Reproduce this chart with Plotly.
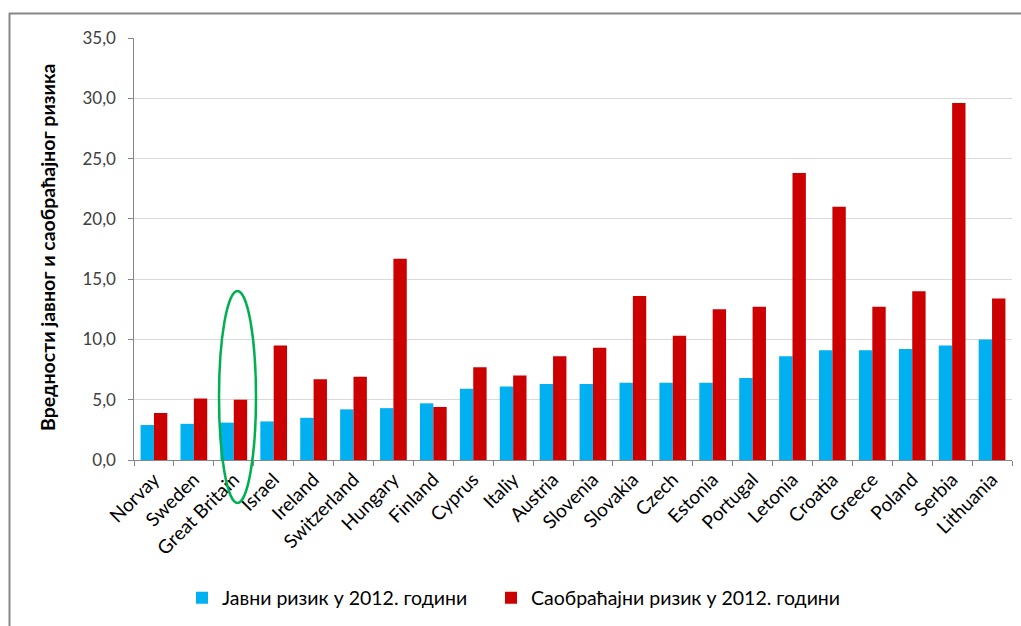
import plotly.graph_objects as go

countries = ["Norvay", "Sweden", "Great Britain", "Israel", "Ireland", "Switzerland",
             "Hungary", "Finland", "Cyprus", "Italiy", "Austria", "Slovenia", "Slovakia",
             "Czech", "Estonia", "Portugal", "Letonia", "Croatia", "Greece", "Poland",
             "Serbia", "Lithuania"]
public_risk = [2.9, 3.0, 3.1, 3.2, 3.5, 4.2, 4.3, 4.7, 5.9, 6.1, 6.3, 6.3, 6.4,
               6.4, 6.4, 6.8, 8.6, 9.1, 9.1, 9.2, 9.5, 10.0]
traffic_risk = [3.9, 5.1, 5.0, 9.5, 6.7, 6.9, 16.7, 4.4, 7.7, 7.0, 8.6, 9.3, 13.6,
                10.3, 12.5, 12.7, 23.8, 21.0, 12.7, 14.0, 29.6, 13.4]
series_names = ["Јавни ризик у 2012. години", "Саобраћајни ризик у 2012. години"]
y_title = "Вредности јавног и саобраћајног ризика"

W, H = 1021, 626
L, R, T, B = 134, 9, 38, 166
pw, ph = W - L - R, H - T - B

def px_x(p):
    return (p - L) / pw

def px_y(p):
    return (H - B - p) / ph

FONT = "Lato"

fig = go.Figure()
fig.add_trace(go.Bar(x=countries, y=public_risk, name=series_names[0], legend="legend",
                     marker=dict(color="#00b0f0", line=dict(width=0))))
fig.add_trace(go.Bar(x=countries, y=traffic_risk, name=series_names[1], legend="legend2",
                     marker=dict(color="#cc0000", line=dict(width=0))))

legend_common = dict(orientation="h", xanchor="left", y=px_y(598), yanchor="middle",
                     font=dict(size=19.5, color="#000000"), itemwidth=30,
                     bgcolor="rgba(0,0,0,0)")

fig.update_layout(
    width=W, height=H,
    margin=dict(l=L, r=R, t=T, b=B, pad=0),
    paper_bgcolor="white", plot_bgcolor="white",
    barmode="group", bargap=0.33, bargroupgap=0,
    separators=", ",
    font=dict(family=FONT, size=16, color="#000000"),
    showlegend=True,
    legend=dict(x=px_x(182), **legend_common),
    legend2=dict(x=px_x(491), **legend_common),
    xaxis=dict(type="category", tickangle=-45, tickson="boundaries", ticks="outside",
               ticklen=5, tickcolor="#868686", showline=True, linecolor="#868686",
               linewidth=1, showgrid=False, tickfont=dict(size=19, color="#000000")),
    yaxis=dict(range=[0, 35], dtick=5, tickformat=".1f", ticks="outside", ticklen=5,
               tickcolor="#868686", showline=True, linecolor="#868686", linewidth=1,
               showgrid=True, gridcolor="#d9d9d9", gridwidth=1, zeroline=False,
               tickfont=dict(size=17, color="#404040"), ticksuffix="  "),
)

fig.add_annotation(text="<b>" + y_title + "</b>", textangle=-90, xref="paper", yref="paper",
                   x=px_x(47), y=px_y(248), xanchor="center", yanchor="middle",
                   showarrow=False, font=dict(size=19.5, color="#000000"))

# outer border (top and left)
fig.add_shape(type="line", xref="paper", yref="paper", x0=px_x(9), x1=px_x(W + 5),
              y0=px_y(13.5), y1=px_y(13.5), line=dict(color="#868686", width=2))
fig.add_shape(type="line", xref="paper", yref="paper", x0=px_x(9.5), x1=px_x(9.5),
              y0=px_y(13), y1=px_y(H + 5), line=dict(color="#868686", width=2))

# highlight ellipse
fig.add_shape(type="circle", xref="paper", yref="paper", x0=px_x(219), x1=px_x(256),
              y0=px_y(503), y1=px_y(291), line=dict(color="#00b050", width=2.5),
              fillcolor="rgba(0,0,0,0)", layer="above")

fig.write_html("out.html")
